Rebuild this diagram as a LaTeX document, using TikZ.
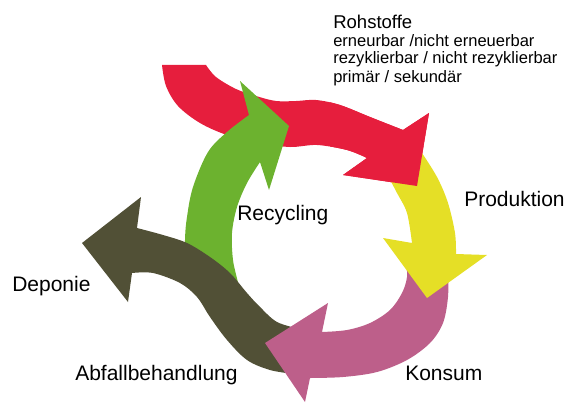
\documentclass[tikz,border=0pt]{standalone}
\usepackage{fontspec}
\setmainfont{Liberation Sans}
\definecolor{cred}{HTML}{E61E3D}
\definecolor{cyellow}{HTML}{E5DF26}
\definecolor{cpink}{HTML}{BD5F8A}
\definecolor{colive}{HTML}{515036}
\definecolor{cgreen}{HTML}{6CB22F}
\tikzset{
  lbl/.style={anchor=base west, inner sep=0pt, font=\fontsize{15.75pt}{18pt}\selectfont},
  smoothy/.style={smooth, tension=0.55}
}
\begin{document}
\begin{tikzpicture}[x=0.75pt,y=-0.75pt]
\useasboundingbox (0,0) rectangle (570,403);
% red (Rohstoffe)
\def\redpath{(162,65) -- (206,65) -- plot[smoothy] coordinates {(206,65) (216,77) (236,89) (256,96) (276,101) (296,101) (316,100) (340,105) (370,117) (403,130)} -- (429,113) -- (417,186) -- (343,175) -- (367,158) -- plot[smoothy] coordinates {(367,158) (347,150) (317,145) (290,147) (260,143) (227,135) (200,123) (178,106) (166,86) (162,65)} -- cycle}
\fill[cred] \redpath;
% green (Recycling)
\fill[cgreen] (240,300) -- (185,282) -- plot[smoothy] coordinates {(185,282) (185,240) (187,217) (193,187) (208,152) (227,132) (249,115)} -- (240,81) -- (289,126) -- (269,190) -- (260,162) -- plot[smoothy] coordinates {(260,162) (247,183) (237,207) (232,233) (233,260) (238,283) (240,300)} -- cycle;
% olive (Abfallbehandlung)
\fill[colive] (82,243) -- (141,197) -- (137,228) -- plot[smoothy] coordinates {(137,228) (163,235) (187,243) (210,257) (230,273) (247,293) (260,307) (277,322) (300,329)} -- (294,374) -- plot[smoothy] coordinates {(294,374) (270,370) (247,360) (227,340) (210,317) (197,297) (180,283) (153,273) (132,273)} -- (128,302) -- cycle;
% pink (Konsum)
\fill[cpink] (265,343) -- (328,303) -- (322,332) -- plot[smoothy] coordinates {(322,332) (347,330) (370,323) (390,310) (402,293) (407,277) (406,262)} -- (448,272) -- plot[smoothy] coordinates {(448,272) (448,297) (443,323) (430,343) (407,360) (377,372) (343,377) (310,378)} -- (305,402) -- cycle;
% yellow (Produktion)
\fill[cyellow] (420,150) -- plot[smoothy] coordinates {(420,150) (437,177) (448,203) (455,233) (456,254)} -- (487,255) -- (427,298) -- (383,238) -- (412,243) -- plot[smoothy] coordinates {(412,243) (407,213) (397,193) (388,176)} -- cycle;
% red head on top of yellow
\begin{scope}
\clip (330,90) rectangle (445,200);
\fill[cred] \redpath;
\end{scope}
% labels
\node[lbl, font=\fontsize{13.9pt}{16pt}\selectfont] (roh) at (333,29) {Rohstoffe};
\node[lbl, font=\fontsize{12.4pt}{14pt}\selectfont] (r1) at (333,46) {erneurbar /nicht erneuerbar};
\node[lbl, font=\fontsize{12.4pt}{14pt}\selectfont] (r2) at (333,64) {rezyklierbar / nicht rezyklierbar};
\node[lbl, font=\fontsize{12.4pt}{14pt}\selectfont] (r3) at (333,82) {primär / sekundär};
\node[lbl] (prod) at (464,206) {Produktion};
\node[lbl] (rec) at (237,220) {Recycling};
\node[lbl] (dep) at (12,291) {Deponie};
\node[lbl] (abf) at (75,380) {Abfallbehandlung};
\node[lbl] (kon) at (405,380) {Konsum};
\end{tikzpicture}
\end{document}
